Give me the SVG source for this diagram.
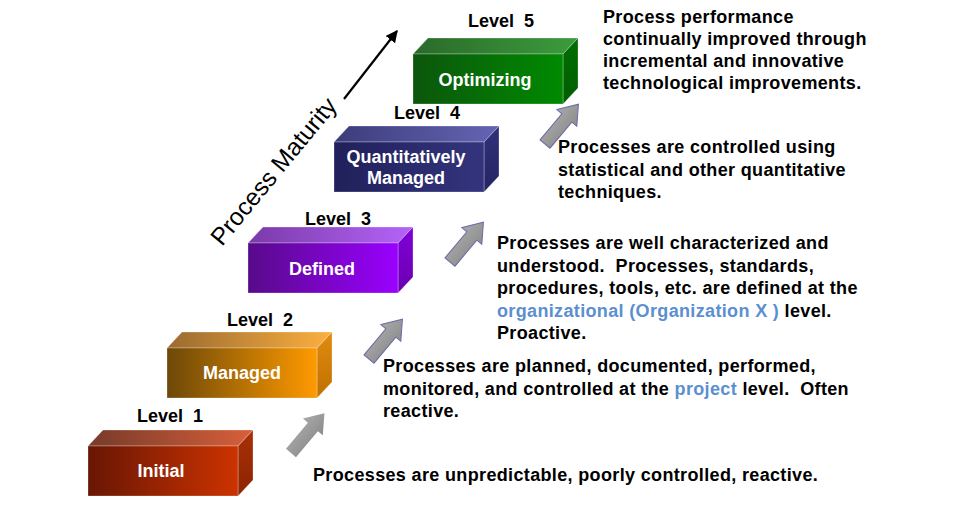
<svg xmlns="http://www.w3.org/2000/svg" width="960" height="510" viewBox="0 0 960 510">
<style>
  .lvl { font-family: "Liberation Sans", Arial, sans-serif; font-weight: bold; font-size: 18px; fill: #000; white-space: pre; }
  .box { font-family: "Liberation Sans", Arial, sans-serif; font-weight: bold; font-size: 18px; fill: #fff; text-anchor: middle; }
  .desc { font-family: "Liberation Sans", Arial, sans-serif; font-weight: bold; font-size: 18px; fill: #000; letter-spacing: 0.35px; white-space: pre; }
  .blue { fill: #5b8fd0; }
  .edge { stroke: #ffffff; stroke-opacity: 0.35; stroke-width: 0.8; }
  .garrow { fill: url(#gGray); }
  .garrow.ol { stroke: #6a6aa8; stroke-width: 1; }
</style>
<defs>
  <linearGradient id="f1" x1="0" y1="0" x2="1" y2="0"><stop offset="0" stop-color="#681604"/><stop offset="1" stop-color="#cc3300"/></linearGradient>
  <linearGradient id="t1" x1="0" y1="0" x2="1" y2="0"><stop offset="0" stop-color="#763a2a"/><stop offset="1" stop-color="#d8603a"/></linearGradient>
  <linearGradient id="s1" x1="0" y1="0" x2="0" y2="1"><stop offset="0" stop-color="#a83008"/><stop offset="1" stop-color="#8c2400"/></linearGradient>

  <linearGradient id="f2" x1="0" y1="0" x2="1" y2="0"><stop offset="0" stop-color="#6c4808"/><stop offset="1" stop-color="#ff9a00"/></linearGradient>
  <linearGradient id="t2" x1="0" y1="0" x2="1" y2="0"><stop offset="0" stop-color="#9a6a30"/><stop offset="1" stop-color="#fcb040"/></linearGradient>
  <linearGradient id="s2" x1="0" y1="0" x2="0" y2="1"><stop offset="0" stop-color="#e08c10"/><stop offset="1" stop-color="#c07000"/></linearGradient>

  <linearGradient id="f3" x1="0" y1="0" x2="1" y2="0"><stop offset="0" stop-color="#580a8a"/><stop offset="1" stop-color="#9a00ff"/></linearGradient>
  <linearGradient id="t3" x1="0" y1="0" x2="1" y2="0"><stop offset="0" stop-color="#7a3aa8"/><stop offset="1" stop-color="#b464f8"/></linearGradient>
  <linearGradient id="s3" x1="0" y1="0" x2="0" y2="1"><stop offset="0" stop-color="#8000d8"/><stop offset="1" stop-color="#6a00b0"/></linearGradient>

  <linearGradient id="f4" x1="0" y1="0" x2="1" y2="0"><stop offset="0" stop-color="#20205a"/><stop offset="1" stop-color="#34347e"/></linearGradient>
  <linearGradient id="t4" x1="0" y1="0" x2="1" y2="0"><stop offset="0" stop-color="#3c3c7a"/><stop offset="1" stop-color="#6464b4"/></linearGradient>
  <linearGradient id="s4" x1="0" y1="0" x2="0" y2="1"><stop offset="0" stop-color="#30307a"/><stop offset="1" stop-color="#242464"/></linearGradient>

  <linearGradient id="f5" x1="0" y1="0" x2="1" y2="0"><stop offset="0" stop-color="#0c560c"/><stop offset="1" stop-color="#008a00"/></linearGradient>
  <linearGradient id="t5" x1="0" y1="0" x2="1" y2="0"><stop offset="0" stop-color="#2a6a2a"/><stop offset="1" stop-color="#3c9c3c"/></linearGradient>
  <linearGradient id="s5" x1="0" y1="0" x2="0" y2="1"><stop offset="0" stop-color="#007000"/><stop offset="1" stop-color="#005c00"/></linearGradient>

  <linearGradient id="gGray" x1="0" y1="0" x2="0" y2="1"><stop offset="0" stop-color="#a8a8a8"/><stop offset="1" stop-color="#8c8c8c"/></linearGradient>

  <path id="blockArrow" d="M0,-6.5 L34,-6.5 L34,-13 L52,0 L34,13 L34,6.5 L0,6.5 Z"/>
  <marker id="blackHead" viewBox="0 0 10 10" refX="9" refY="5" markerWidth="5.5" markerHeight="5.5" orient="auto" markerUnits="strokeWidth">
    <path d="M0,0 L10,5 L0,10 Z" fill="#000"/>
  </marker>
</defs>

<rect width="960" height="510" fill="#ffffff"/>

<!-- Level 1 -->
<g id="level1">
  <text class="lvl" x="137" y="422">Level  1</text>
  <g transform="translate(88,446)">
    <polygon class="edge" points="0,0 15,-16 165,-16 150,0" fill="url(#t1)"/>
    <polygon class="edge" points="150,0 165,-16 165,34 150,50" fill="url(#s1)"/>
    <rect class="edge" x="0" y="0" width="150" height="50" fill="url(#f1)"/>
    <text class="box" x="73" y="31">Initial</text>
  </g>
</g>

<!-- Level 2 -->
<g id="level2">
  <text class="lvl" x="227" y="326">Level  2</text>
  <g transform="translate(167,348)">
    <polygon class="edge" points="0,0 15,-16 165,-16 150,0" fill="url(#t2)"/>
    <polygon class="edge" points="150,0 165,-16 165,34 150,50" fill="url(#s2)"/>
    <rect class="edge" x="0" y="0" width="150" height="50" fill="url(#f2)"/>
    <text class="box" x="75" y="31">Managed</text>
  </g>
</g>

<!-- Level 3 -->
<g id="level3">
  <text class="lvl" x="305" y="225">Level  3</text>
  <g transform="translate(248,243)">
    <polygon class="edge" points="0,0 15,-16 165,-16 150,0" fill="url(#t3)"/>
    <polygon class="edge" points="150,0 165,-16 165,34 150,50" fill="url(#s3)"/>
    <rect class="edge" x="0" y="0" width="150" height="50" fill="url(#f3)"/>
    <text class="box" x="74" y="32">Defined</text>
  </g>
</g>

<!-- Level 4 -->
<g id="level4">
  <text class="lvl" x="394" y="119">Level  4</text>
  <g transform="translate(334,142)">
    <polygon class="edge" points="0,0 15,-16 165,-16 150,0" fill="url(#t4)"/>
    <polygon class="edge" points="150,0 165,-16 165,34 150,50" fill="url(#s4)"/>
    <rect class="edge" x="0" y="0" width="150" height="50" fill="url(#f4)"/>
    <text class="box" x="72" y="21">Quantitatively</text>
    <text class="box" x="72" y="42">Managed</text>
  </g>
</g>

<!-- Level 5 -->
<g id="level5">
  <text class="lvl" x="468" y="27">Level  5</text>
  <g transform="translate(413,54)">
    <polygon class="edge" points="0,0 15,-16 165,-16 150,0" fill="url(#t5)"/>
    <polygon class="edge" points="150,0 165,-16 165,34 150,50" fill="url(#s5)"/>
    <rect class="edge" x="0" y="0" width="150" height="50" fill="url(#f5)"/>
    <text class="box" x="72" y="32">Optimizing</text>
  </g>
</g>

<!-- Descriptions -->
<g id="desc1">
  <text class="desc" x="313" y="481">Processes are unpredictable, poorly controlled, reactive.</text>
</g>
<g id="desc2">
  <text class="desc" x="383" y="372">Processes are planned, documented, performed,</text>
  <text class="desc" x="383" y="395">monitored, and controlled at the <tspan class="blue">project</tspan> level.  Often</text>
  <text class="desc" x="383" y="417">reactive.</text>
</g>
<g id="desc3">
  <text class="desc" x="497" y="249">Processes are well characterized and</text>
  <text class="desc" x="497" y="272">understood.  Processes, standards,</text>
  <text class="desc" x="497" y="294">procedures, tools, etc. are defined at the</text>
  <text class="desc" x="497" y="317"><tspan class="blue">organizational (Organization X )</tspan> level.</text>
  <text class="desc" x="497" y="339">Proactive.</text>
</g>
<g id="desc4">
  <text class="desc" x="558" y="153">Processes are controlled using</text>
  <text class="desc" x="558" y="176">statistical and other quantitative</text>
  <text class="desc" x="558" y="198">techniques.</text>
</g>
<g id="desc5">
  <text class="desc" x="603" y="23">Process performance</text>
  <text class="desc" x="603" y="45">continually improved through</text>
  <text class="desc" x="603" y="67">incremental and innovative</text>
  <text class="desc" x="603" y="89">technological improvements.</text>
</g>

<!-- Process Maturity axis label -->
<g id="maturity">
  <text x="222" y="247" transform="rotate(-50.5 222 247)" font-family="Liberation Sans, Arial, sans-serif" font-size="24.5" fill="#000">Process Maturity</text>
</g>

<!-- Connectors -->
<g id="connectors">
  <line x1="344" y1="99" x2="397" y2="31" stroke="#000" stroke-width="2.2" marker-end="url(#blackHead)"/>
  <use href="#blockArrow" class="garrow" transform="translate(291,453) rotate(-50)"/>
  <use href="#blockArrow" class="garrow ol" transform="translate(369,359) rotate(-50)"/>
  <use href="#blockArrow" class="garrow ol" transform="translate(450,262) rotate(-50)"/>
  <use href="#blockArrow" class="garrow ol" transform="translate(545,144) rotate(-50)"/>
</g>
</svg>
